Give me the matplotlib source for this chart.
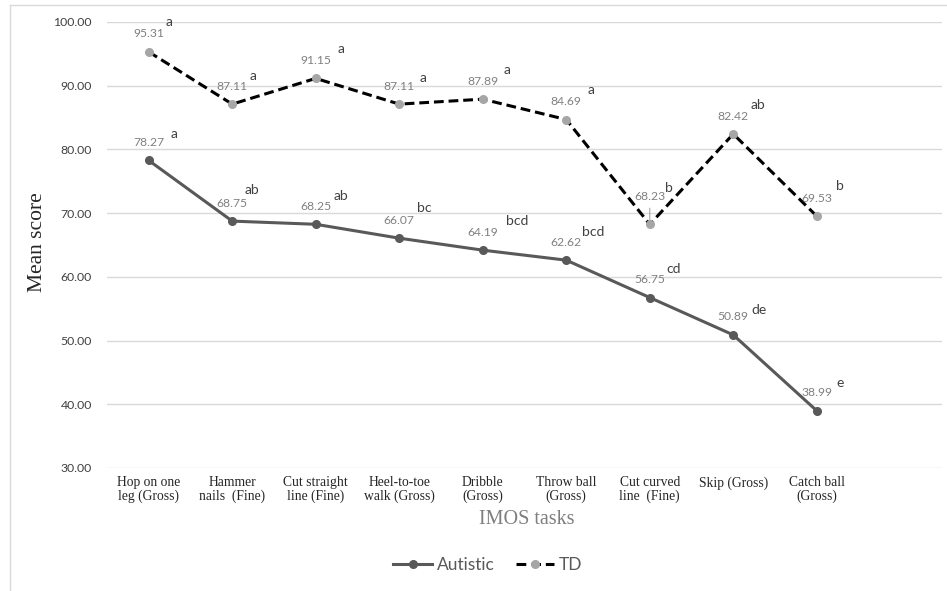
import matplotlib
matplotlib.use("Agg")
import matplotlib.pyplot as plt
from matplotlib.lines import Line2D

# IMOS task means by group
tasks = [
    "Hop on one\nleg (Gross)", "Hammer\nnails  (Fine)", "Cut straight\nline (Fine)",
    "Heel-to-toe\nwalk (Gross)", "Dribble\n(Gross)", "Throw ball\n(Gross)",
    "Cut curved\nline  (Fine)", "Skip (Gross)", "Catch ball\n(Gross)",
]
autistic = [78.27, 68.75, 68.25, 66.07, 64.19, 62.62, 56.75, 50.89, 38.99]
td = [95.31, 87.11, 91.15, 87.11, 87.89, 84.69, 68.23, 82.42, 69.53]
autistic_letters = ["a", "ab", "ab", "bc", "bcd", "bcd", "cd", "de", "e"]
td_letters = ["a", "a", "a", "a", "a", "a", "b", "ab", "b"]
yticks = [30, 40, 50, 60, 70, 80, 90, 100]

# letter offsets in pixels (dx, dy) relative to each point
aut_letter_off = [(25, 26), (20, 31), (25, 28), (25, 30), (34, 29), (27, 28), (24, 29), (26, 25), (23, 28)]
td_letter_off = [(20, 30), (21, 28), (25, 29), (24, 26), (24, 29), (25, 30), (19, 36), (25, 29), (23, 30)]

SANS = ["Lato", "DejaVu Sans"]
SERIF = ["Liberation Serif", "DejaVu Serif"]

fig = plt.figure(figsize=(9.47, 5.91), dpi=100)
ax = fig.add_axes([107 / 947, 1 - 468 / 591, 835 / 947, 446 / 591])

x = list(range(len(tasks)))

ax.plot(x, autistic, color="#595959", lw=2.2, marker="o", ms=5.5,
        markerfacecolor="#595959", markeredgecolor="#595959", zorder=3)
td_line, = ax.plot(x, td, color="black", lw=2.2, marker="o", ms=5.5,
                   markerfacecolor="#a6a6a6", markeredgecolor="#a6a6a6", zorder=3)
td_line.set_dashes([3.2, 1.6])

for xi, v, lt, off in zip(x, autistic, autistic_letters, aut_letter_off):
    ax.annotate(f"{v:.2f}", (xi, v), xytext=(0, 18), textcoords="offset pixels",
                ha="center", va="center", fontsize=8.7, color="#808080", family=SANS)
    ax.annotate(lt, (xi, v), xytext=off, textcoords="offset pixels",
                ha="center", va="center", fontsize=10, color="#404040", family=SANS)

for i, (xi, v, lt, off) in enumerate(zip(x, td, td_letters, td_letter_off)):
    dy = 28 if i == 6 else 18
    ax.annotate(f"{v:.2f}", (xi, v), xytext=(0, dy), textcoords="offset pixels",
                ha="center", va="center", fontsize=8.7, color="#808080", family=SANS)
    if i == 6:
        ax.annotate("", (xi, v), xytext=(0, 19), textcoords="offset pixels",
                    arrowprops=dict(arrowstyle="-", color="#a6a6a6", lw=0.8))
    ax.annotate(lt, (xi, v), xytext=off, textcoords="offset pixels",
                ha="center", va="center", fontsize=10, color="#404040", family=SANS)

ax.set_xlim(-0.5, 9.5)
ax.set_ylim(30, 100)
ax.set_yticks(yticks)
ax.set_yticklabels([f"{t:.2f}" for t in yticks], family=SANS, fontsize=8.8, color="#404040")
ax.set_xticks(x)
ax.set_xticklabels(tasks, family=SERIF, fontsize=9.8, color="#262626", linespacing=1.05)
ax.tick_params(length=0, axis="y", pad=11)
ax.tick_params(length=0, axis="x", pad=6)
ax.grid(axis="y", color="#d9d9d9", lw=1)
ax.set_axisbelow(True)
for s in ax.spines.values():
    s.set_visible(False)

fig.text(38 / 947, 1 - 242 / 591, "Mean score", rotation=90, ha="center", va="center",
         family=SERIF, fontsize=15.5, color="#262626")
fig.text(527 / 947, 1 - 519 / 591, "IMOS tasks", ha="center", va="center",
         family=SERIF, fontsize=14.5, color="#7f7f7f")

handles = [
    Line2D([], [], color="#595959", lw=2.2, marker="o", ms=5.5,
           markerfacecolor="#595959", markeredgecolor="#595959"),
    Line2D([], [], color="black", lw=2.2, marker="o", ms=5.5, dashes=[3.2, 1.6],
           markerfacecolor="#a6a6a6", markeredgecolor="#a6a6a6"),
]
fig.legend(handles, ["Autistic", "TD"], loc="center", bbox_to_anchor=(488 / 947, 1 - 565 / 591),
           ncol=2, frameon=False, handlelength=2.2, handletextpad=0.3, columnspacing=1.2,
           prop={"family": SANS, "size": 12.5}, labelcolor="#595959")

# outer chart frame
fig.add_artist(Line2D([10 / 947, 10 / 947], [0, 1 - 5 / 591], color="#d9d9d9", lw=1,
                      transform=fig.transFigure))
fig.add_artist(Line2D([10 / 947, 1], [1 - 5 / 591, 1 - 5 / 591], color="#d9d9d9", lw=1,
                      transform=fig.transFigure))

fig.savefig("out.png", dpi=100)
